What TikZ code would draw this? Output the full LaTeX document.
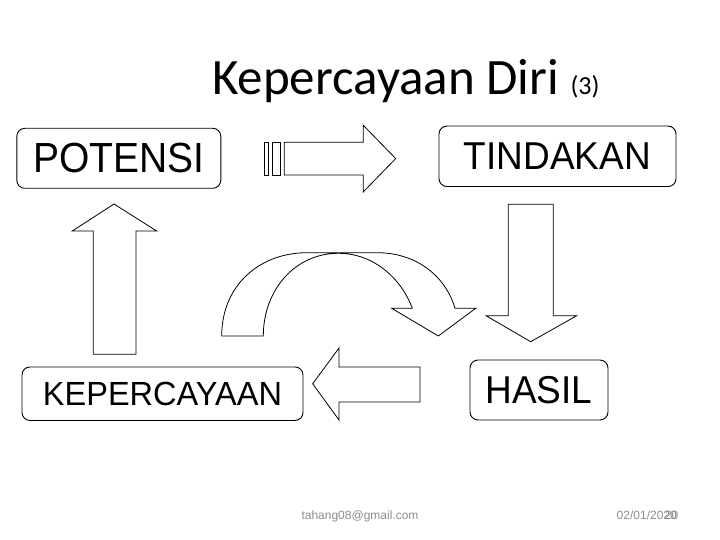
\documentclass[tikz,border=0pt]{standalone}
\usepackage{fontspec}
\setmainfont{Liberation Sans}
\newfontfamily\titlefont{Carlito}
\definecolor{footgray}{HTML}{8C8C8C}
\begin{document}
\begin{tikzpicture}[x=1pt,y=-1pt,
  box/.style={draw, rounded corners=8pt, line width=0.9pt, inner sep=0pt},
  blockarrow/.style={draw, line width=0.8pt, line join=miter, fill=white},
  foot/.style={font=\fontsize{12}{14}\selectfont, text=footgray, inner sep=0pt}]
\useasboundingbox (0,0) rectangle (720,540);

% title
\node[anchor=base west, inner sep=0pt, font=\titlefont\fontsize{51}{61}\selectfont] (title) at (212,95)
  {Kepercayaan Diri {\fontsize{26}{31}\selectfont (3)}};

% boxes
\node[box, minimum width=204pt, minimum height=60pt, font=\fontsize{39}{46}\selectfont] (potensi) at (118.8,158.3) {\scalebox{1}[1.08]{POTENSI}};
\node[box, minimum width=237pt, minimum height=60.5pt, font=\fontsize{37}{44}\selectfont] (tindakan) at (557.5,156.3) {\scalebox{1}[1.05]{TINDAKAN}};
\node[box, minimum width=281pt, minimum height=53.5pt, font=\fontsize{32.5}{39}\selectfont] (keper) at (162.5,393.7) {\scalebox{1}[1.03]{KEPERCAYAAN}};
\node[box, minimum width=138pt, minimum height=60pt, font=\fontsize{37}{44}\selectfont] (hasil) at (539,390) {\scalebox{1}[1.05]{HASIL}};

% striped right arrow (POTENSI -> TINDAKAN)
\draw[blockarrow] (264.3,142.3) rectangle (268.7,175);
\draw[blockarrow] (272,142.3) rectangle (280.7,175);
\draw[blockarrow] (284.3,142.3) -- (363.3,142.3) -- (363.3,125.3) -- (395.7,158.6)
  -- (363.3,191.9) -- (363.3,175) -- (284.3,175) -- cycle;

% down arrow (TINDAKAN -> HASIL)
\draw[blockarrow] (508.3,204.3) -- (553.3,204.3) -- (553.3,315.7) -- (576.7,315.7)
  -- (530.7,341.7) -- (486,315.7) -- (508.3,315.7) -- cycle;

% left arrow (HASIL -> KEPERCAYAAN)
\draw[blockarrow] (420,367) -- (339,367) -- (339,348) -- (312.7,383.8)
  -- (339,420) -- (339,402) -- (420,402) -- cycle;

% up arrow (KEPERCAYAAN -> POTENSI)
\draw[blockarrow] (93.3,354.3) -- (93.3,231) -- (72.3,231) -- (114,204)
  -- (156.7,231) -- (136,231) -- (136,354.3) -- cycle;

% curved arrow
\draw[blockarrow] (221.7,336) .. controls (221.7,285) and (260,252.7) .. (307,252.7)
  -- (377,252.7) .. controls (420,252.7) and (447,280) .. (455,308.3)
  -- (475.7,308.3) -- (438.3,336) -- (391.7,308.3) -- (412.3,308.3)
  .. controls (402,280) and (375,253.3) .. (338.3,253.3)
  .. controls (295,253.3) and (263.3,290) .. (263.3,336) -- cycle;

% footer
\node[foot, anchor=base] (mail) at (360,519) {tahang08@gmail.com};
\node[foot, anchor=base east] (date) at (677,519) {02/01/2020};
\node[foot, anchor=base east] (num) at (678.5,519) {20};
\end{tikzpicture}
\end{document}
